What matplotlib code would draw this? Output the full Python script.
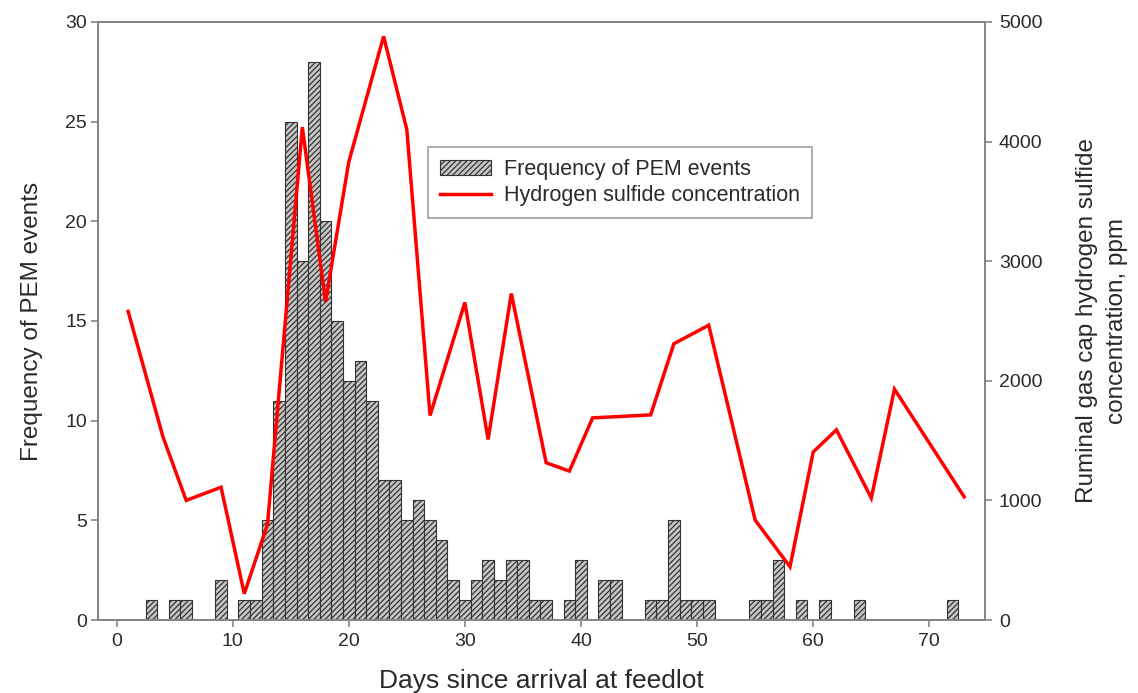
import matplotlib
matplotlib.use("Agg")
import matplotlib.pyplot as plt
from matplotlib.patches import Patch
from matplotlib.lines import Line2D

plt.rcParams['font.family'] = ['Liberation Sans', 'DejaVu Sans']
plt.rcParams['hatch.color'] = '#2e2e2e'
plt.rcParams['hatch.linewidth'] = 0.9

# PEM event frequency per day
pem_days = [3, 5, 6, 9, 11, 12, 13, 14, 15, 16, 17, 18, 19, 20, 21, 22, 23, 24, 25, 26,
            27, 28, 29, 30, 31, 32, 33, 34, 35, 36, 37, 39, 40, 42, 43, 46, 47, 48, 49,
            50, 51, 55, 56, 57, 59, 61, 64, 72]
pem_counts = [1, 1, 1, 2, 1, 1, 5, 11, 25, 18, 28, 20, 15, 12, 13, 11, 7, 7, 5, 6,
              5, 4, 2, 1, 2, 3, 2, 3, 3, 1, 1, 1, 3, 2, 2, 1, 1, 5, 1,
              1, 1, 1, 1, 3, 1, 1, 1, 1]

# Hydrogen sulfide concentration (ppm)
h2s_days = [1, 4, 6, 9, 11, 13, 16, 18, 20, 23, 25, 27, 30, 32, 34, 37, 39, 41, 46,
            48, 51, 55, 58, 60, 62, 65, 67, 73]
h2s_ppm = [2580, 1530, 1000, 1110, 220, 800, 4120, 2660, 3830, 4880, 4100, 1710, 2655,
           1510, 2730, 1315, 1245, 1690, 1715, 2310, 2465, 835, 445, 1405, 1590, 1020,
           1930, 1030]

x_ticks = [0, 10, 20, 30, 40, 50, 60, 70]
left_ticks = [0, 5, 10, 15, 20, 25, 30]
right_ticks = [0, 1000, 2000, 3000, 4000, 5000]

spine_c = '#858585'
text_c = '#2a2a2a'
bar_face = '#c6c6c6'
bar_edge = '#333333'
red = '#ff0000'

fig = plt.figure(figsize=(11.38, 6.93), dpi=100)
ax = fig.add_axes([0.0861, 0.1053, 0.7795, 0.863])
ax2 = ax.twinx()

ax.bar(pem_days, pem_counts, width=1.0, facecolor=bar_face, edgecolor=bar_edge,
       hatch='//////', linewidth=0.8)
ax2.plot(h2s_days, h2s_ppm, color=red, linewidth=2.5, solid_joinstyle='miter')

ax.set_xlim(-1.6, 74.8)
ax.set_ylim(0, 30)
ax2.set_ylim(0, 5000)
ax.set_xticks(x_ticks)
ax.set_yticks(left_ticks)
ax2.set_yticks(right_ticks)

for a in (ax, ax2):
    for s in a.spines.values():
        s.set_color(spine_c)
        s.set_linewidth(1.4)
    a.tick_params(colors=spine_c, labelcolor=text_c, labelsize=14, length=5, width=1.2,
                  direction='out')
ax.tick_params(axis='x', pad=4)
ax.tick_params(axis='y', pad=3)
ax2.tick_params(axis='y', pad=5)

ax.set_xlabel('Days since arrival at feedlot', fontsize=19, color=text_c, labelpad=14)
ax.set_ylabel('Frequency of PEM events', fontsize=17.5, color=text_c, labelpad=16)
ax2.set_ylabel('Ruminal gas cap hydrogen sulfide\nconcentration, ppm', fontsize=17.5,
               color=text_c, labelpad=24, linespacing=1.45)

handles = [Patch(facecolor=bar_face, edgecolor=bar_edge, hatch='//////', linewidth=0.8),
           Line2D([0], [0], color=red, linewidth=2.5)]
labels = ['Frequency of PEM events', 'Hydrogen sulfide concentration']
leg = ax2.legend(handles, labels, loc='upper left', bbox_to_anchor=(0.372, 0.791),
                 borderaxespad=0, fontsize=15.5, frameon=True, fancybox=False,
                 edgecolor=spine_c, borderpad=0.55, handlelength=2.4, handletextpad=0.6,
                 labelspacing=0.25)
leg.get_frame().set_linewidth(1.2)
for t in leg.get_texts():
    t.set_color(text_c)

fig.savefig('out.png', dpi=100)
